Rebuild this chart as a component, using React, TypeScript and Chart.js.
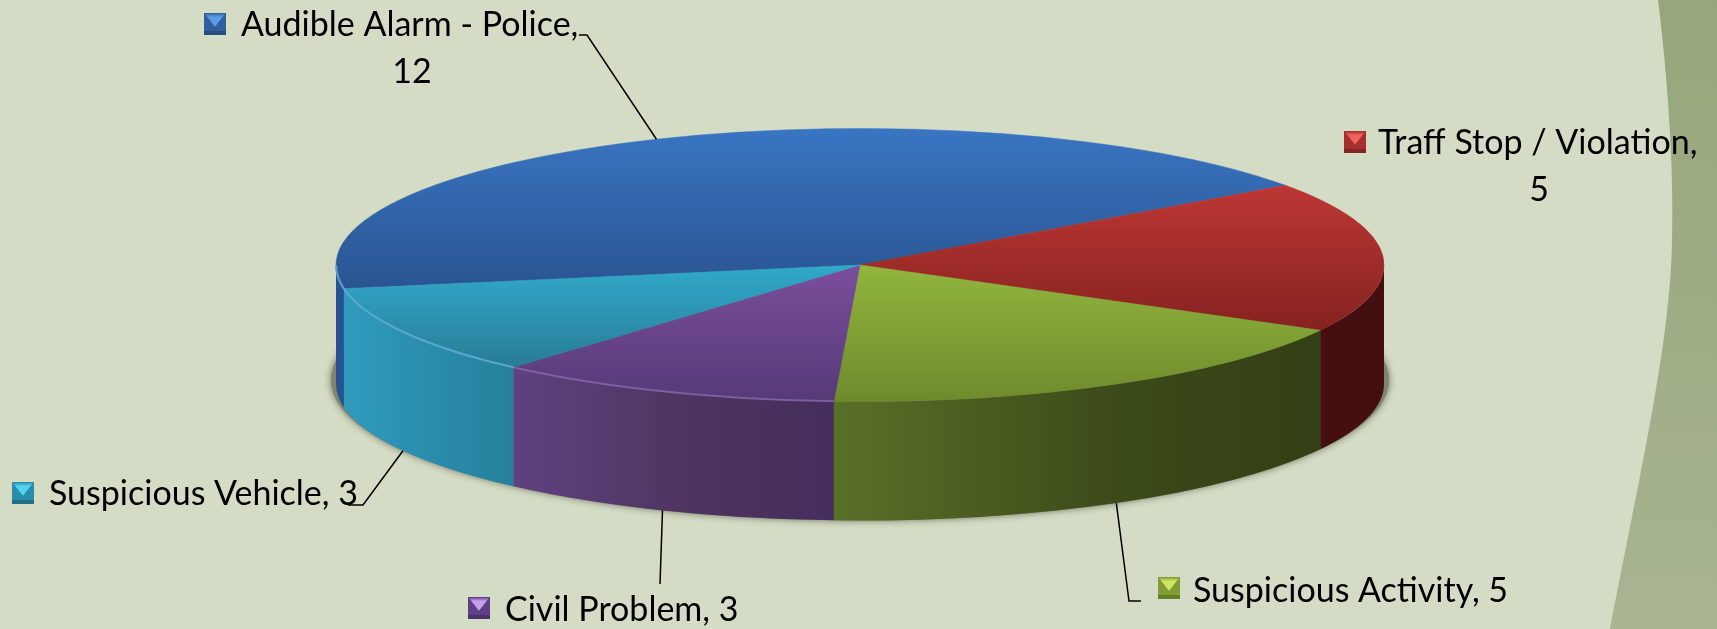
import React, { useEffect, useRef } from "react";
import { Chart, registerables } from "chart.js";

Chart.register(...registerables);

const categories = ["Audible Alarm - Police", "Traff Stop / Violation", "Suspicious Activity", "Civil Problem", "Suspicious Vehicle"];
const values = [12, 5, 5, 3, 3];

const topLight = ["#3975c2", "#bd3734", "#92b63e", "#7b4e9c", "#31a9ca"];
const topDark = ["#2a5491", "#85221f", "#6f8a2c", "#563a78", "#287c97"];
const wallLeft = ["#27548f", "#450f10", "#5a7027", "#5f4180", "#2f9bbc"];
const wallMid = ["#27548f", "#450f10", "#3d4c1a", "#4e345f", "#2a8cab"];
const wallRight = ["#27548f", "#420e0f", "#333f14", "#452d5d", "#25809b"];
const keyBody = ["#2f5f9f", "#a52f2e", "#7f9d33", "#5f3f86", "#2a8dab"];
const keyTip = ["#5f9ae6", "#f0605c", "#cfe566", "#c9a0f0", "#52d3f0"];
const bevel = [null, null, null, "rgba(150,115,190,0.6)", "rgba(70,195,220,0.65)"];

const WIDTH = 1717;
const HEIGHT = 629;
const RX = 524;
const TILT = 136.5 / 524;
const DEPTH = 119;
const ROTATION = 260;

const labelLayout = [
  { x: 241, y: 36, cx: 412, y2: 83, kx: 204, ky: 13, lines: ["Audible Alarm - Police,", "12"], leader: [[587, 35], [579, 35]] },
  { x: 1378, y: 154, cx: 1539, y2: 201, kx: 1344, ky: 131, lines: ["Traff Stop / Violation,", "5"], leader: null },
  { x: 1193, y: 602, kx: 1158, ky: 577, lines: ["Suspicious Activity, 5"], leader: [[1129, 601], [1141, 601]] },
  { x: 505, y: 621, kx: 468, ky: 597, lines: ["Civil Problem, 3"], leader: [[660, 584]] },
  { x: 49, y: 505, kx: 12, ky: 482, lines: ["Suspicious Vehicle, 3"], leader: [[363, 505], [348, 505]] },
];

const total = values.reduce((a, b) => a + b, 0);
function sliceRange(i: number) {
  const base = ((ROTATION - 90) * Math.PI) / 180;
  const before = values.slice(0, i).reduce((a, b) => a + b, 0);
  return [base + (before / total) * 2 * Math.PI, base + ((before + values[i]) / total) * 2 * Math.PI];
}

function topGradient(ctx: CanvasRenderingContext2D, i: number, cy: number) {
  const [s, e] = sliceRange(i);
  let lo = 0;
  let hi = 0;
  for (let k = 0; k <= 40; k++) {
    const v = Math.sin(s + ((e - s) * k) / 40) * RX;
    lo = Math.min(lo, v);
    hi = Math.max(hi, v);
  }
  const g = ctx.createLinearGradient(0, cy + lo, 0, cy + hi);
  g.addColorStop(0, topLight[i]);
  g.addColorStop(1, topDark[i]);
  return g;
}

const CENTER_Y = 265;

const pie3d = {
  id: "pie3d",
  beforeDraw(chart: any) {
    const { ctx } = chart;
    ctx.save();
    ctx.fillStyle = "#d4dcc5";
    ctx.fillRect(0, 0, WIDTH, HEIGHT);
    const band = ctx.createLinearGradient(0, 0, 0, HEIGHT);
    band.addColorStop(0, "#96a67a");
    band.addColorStop(1, "#a8b492");
    ctx.fillStyle = band;
    ctx.beginPath();
    ctx.moveTo(1658, 0);
    ctx.bezierCurveTo(1668, 80, 1674, 170, 1672, 241);
    ctx.bezierCurveTo(1670, 340, 1645, 450, 1610, 629);
    ctx.lineTo(WIDTH, 629);
    ctx.lineTo(WIDTH, 0);
    ctx.closePath();
    ctx.fill();
    ctx.restore();
  },
  beforeDatasetsDraw(chart: any) {
    const { ctx } = chart;
    const arcs = chart.getDatasetMeta(0).data;
    const cx = arcs[0].x;
    const cy = arcs[0].y;
    const rx = arcs[0].outerRadius;
    const ry = rx * TILT;
    ctx.save();
    ctx.shadowColor = "rgba(60,62,50,0.7)";
    ctx.shadowBlur = 7;
    ctx.fillStyle = "#80846f";
    ctx.beginPath();
    ctx.ellipse(cx, cy + 115, rx + 5, ry + 4, 0, 0, Math.PI * 2);
    ctx.fill();
    ctx.shadowColor = "transparent";
    arcs.forEach((arc: any, i: number) => {
      for (let k = -1; k <= 1; k++) {
        const a0 = Math.max(arc.startAngle + k * 2 * Math.PI, 0);
        const a1 = Math.min(arc.endAngle + k * 2 * Math.PI, Math.PI);
        if (a1 <= a0) continue;
        const xa = cx + rx * Math.cos(a1);
        const xb = cx + rx * Math.cos(a0);
        const g = ctx.createLinearGradient(xa, 0, xb, 0);
        g.addColorStop(0, wallLeft[i]);
        g.addColorStop(0.55, wallMid[i]);
        g.addColorStop(1, wallRight[i]);
        ctx.fillStyle = g;
        ctx.beginPath();
        ctx.ellipse(cx, cy, rx, ry, 0, a0, a1);
        ctx.ellipse(cx, cy + DEPTH, rx, ry, 0, a1, a0, true);
        ctx.closePath();
        ctx.fill();
      }
    });
    ctx.restore();
  },
  beforeDatasetDraw(chart: any) {
    const { ctx } = chart;
    const arc = chart.getDatasetMeta(0).data[0];
    ctx.save();
    ctx.translate(arc.x, arc.y);
    ctx.scale(1, TILT);
    ctx.translate(-arc.x, -arc.y);
  },
  afterDatasetDraw(chart: any) {
    chart.ctx.restore();
  },
  afterDatasetsDraw(chart: any) {
    const { ctx } = chart;
    const arcs = chart.getDatasetMeta(0).data;
    const cx = arcs[0].x;
    const cy = arcs[0].y;
    const rx = arcs[0].outerRadius;
    const ry = rx * TILT;
    ctx.save();
    arcs.forEach((arc: any, i: number) => {
      if (!bevel[i]) return;
      ctx.strokeStyle = bevel[i];
      ctx.lineWidth = 2;
      ctx.beginPath();
      ctx.ellipse(cx, cy, rx, ry, 0, arc.startAngle, Math.min(arc.endAngle, Math.PI));
      ctx.stroke();
    });
    ctx.font = "34px Lato";
    ctx.textBaseline = "alphabetic";
    arcs.forEach((arc: any, i: number) => {
      const lay = labelLayout[i];
      if (lay.leader) {
        const mid = (arc.startAngle + arc.endAngle) / 2;
        const sin = Math.sin(mid);
        ctx.strokeStyle = "#000";
        ctx.lineWidth = 1.5;
        ctx.beginPath();
        ctx.moveTo(cx + rx * Math.cos(mid), cy + ry * sin + (sin > 0 ? DEPTH : 0));
        lay.leader.forEach((p: number[]) => ctx.lineTo(p[0], p[1]));
        ctx.stroke();
      }
      const k = 22;
      ctx.fillStyle = keyBody[i];
      ctx.fillRect(lay.kx, lay.ky, k, k);
      ctx.fillStyle = "rgba(0,0,0,0.2)";
      ctx.fillRect(lay.kx, lay.ky + k - 4, k, 4);
      const tip = ctx.createLinearGradient(0, lay.ky, 0, lay.ky + k * 0.62);
      tip.addColorStop(0, keyBody[i]);
      tip.addColorStop(0.3, keyTip[i]);
      tip.addColorStop(1, keyTip[i]);
      ctx.fillStyle = tip;
      ctx.beginPath();
      ctx.moveTo(lay.kx + 1, lay.ky + 1);
      ctx.lineTo(lay.kx + k - 1, lay.ky + 1);
      ctx.lineTo(lay.kx + k / 2, lay.ky + k * 0.62);
      ctx.closePath();
      ctx.fill();
      ctx.fillStyle = "#000";
      ctx.textAlign = "left";
      ctx.fillText(lay.lines[0], lay.x, lay.y);
      if (lay.lines[1]) {
        ctx.textAlign = "center";
        ctx.fillText(lay.lines[1], lay.cx, lay.y2);
      }
    });
    ctx.restore();
  },
};

export default function App() {
  const ref = useRef<HTMLCanvasElement>(null);
  useEffect(() => {
    const chart = new Chart(ref.current!, {
      type: "pie",
      data: {
        labels: categories,
        datasets: [
          {
            data: values,
            radius: RX,
            clip: false,
            borderWidth: 0.8,
            backgroundColor: (c: any) => topGradient(c.chart.ctx, c.dataIndex, CENTER_Y),
            borderColor: (c: any) => topGradient(c.chart.ctx, c.dataIndex, CENTER_Y),
          } as any,
        ],
      },
      options: {
        animation: false,
        responsive: false,
        devicePixelRatio: 1,
        events: [],
        rotation: ROTATION,
        layout: { padding: { left: 3, bottom: 99 } },
        plugins: { legend: { display: false }, tooltip: { enabled: false } },
      },
      plugins: [pie3d as any],
    });
    return () => chart.destroy();
  }, []);
  return (
    <div style={{ position: "fixed", left: 0, top: 0, width: WIDTH, height: HEIGHT }}>
      <canvas ref={ref} width={WIDTH} height={HEIGHT} style={{ display: "block" }} />
    </div>
  );
}
